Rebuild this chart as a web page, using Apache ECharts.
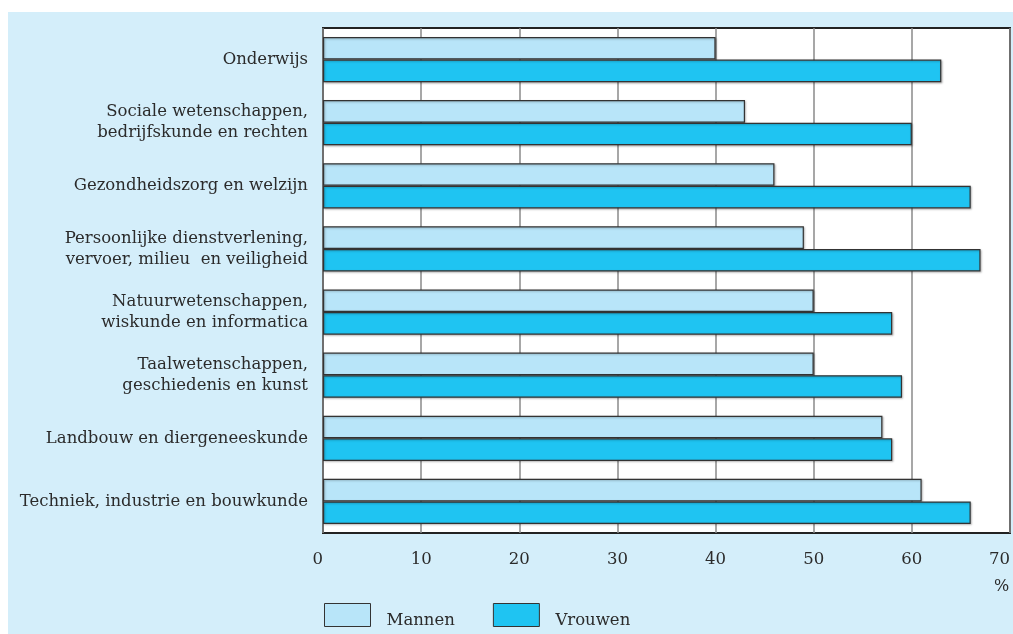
<!DOCTYPE html>
<html>
<head>
<meta charset="utf-8">
<script src="https://cdn.jsdelivr.net/npm/echarts@6/dist/echarts.min.js"></script>
<style>
html,body{margin:0;padding:0;background:#ffffff;}
#chart{width:1013px;height:634px;}
</style>
</head>
<body>
<div id="chart"></div>
<script>
var categories = [
  "Onderwijs",
  "Sociale wetenschappen,\nbedrijfskunde en rechten",
  "Gezondheidszorg en welzijn",
  "Persoonlijke dienstverlening,\nvervoer, milieu  en veiligheid",
  "Natuurwetenschappen,\nwiskunde en informatica",
  "Taalwetenschappen,\ngeschiedenis en kunst",
  "Landbouw en diergeneeskunde",
  "Techniek, industrie en bouwkunde"
];
var mannen = [40, 43, 46, 49, 50, 50, 57, 61];
var vrouwen = [63, 60, 66, 67, 58, 59, 58, 66];
var xTicks = [0, 10, 20, 30, 40, 50, 60, 70];

var FONT = "DejaVu Serif";
var TXT = "#2b2b2b";

var chart = echarts.init(document.getElementById('chart'), null, {renderer: 'canvas'});
chart.setOption({
  animation: false,
  backgroundColor: '#ffffff',
  graphic: [
    {type: 'rect', z: -100, silent: true, shape: {x: 8, y: 12, width: 1005, height: 622}, style: {fill: '#d4eefa'}},
    {type: 'text', z: 10, left: 994, top: 579, style: {text: '%', font: '16px "DejaVu Serif"', fill: TXT}}
  ],
  grid: {
    left: 323, right: 3, top: 28, bottom: 101,
    show: true, backgroundColor: '#ffffff', borderColor: '#222222', borderWidth: 2,
    containLabel: false, outerBoundsMode: 'none'
  },
  legend: {
    left: 324, top: 603, padding: 0,
    itemWidth: 46, itemHeight: 23, itemGap: 38,
    icon: 'rect',
    formatter: '{t|{name}}',
    textStyle: {
      fontFamily: FONT, fontSize: 16.5, color: TXT, padding: [0, 0, 0, 11],
      rich: {t: {fontFamily: FONT, fontSize: 16.5, color: TXT, padding: [12, 0, 0, 0]}}
    },
    itemStyle: {borderColor: '#333333', borderWidth: 1},
    data: ['Mannen', 'Vrouwen']
  },
  xAxis: {
    type: 'value', min: 0, max: 70, interval: 10,
    axisLine: {show: false}, axisTick: {show: false},
    splitLine: {show: true, lineStyle: {color: '#8a8a8a', width: 1.5}},
    axisLabel: {
      margin: 18, fontFamily: FONT, fontSize: 16.5, color: TXT,
      alignMinLabel: 'right', alignMaxLabel: 'right',
      formatter: function (v) { return xTicks.indexOf(v) >= 0 ? String(v) : ''; }
    }
  },
  yAxis: {
    type: 'category', inverse: true, data: categories,
    axisLine: {show: false}, axisTick: {show: false},
    axisLabel: {margin: 15, fontFamily: FONT, fontSize: 16.5, color: TXT, lineHeight: 21, align: 'right',
      padding: [4, 0, 0, 0]}
  },
  series: [
    {
      name: 'Mannen', type: 'bar', data: mannen,
      barGap: '0%', barCategoryGap: '28.5%',
      itemStyle: {color: '#b8e5f9', borderColor: '#333333', borderWidth: 1.2,
        shadowColor: 'rgba(0,0,0,0.25)', shadowBlur: 2, shadowOffsetX: 1, shadowOffsetY: 1}
    },
    {
      name: 'Vrouwen', type: 'bar', data: vrouwen,
      barGap: '0%', barCategoryGap: '28.5%',
      itemStyle: {color: '#1fc4f2', borderColor: '#333333', borderWidth: 1.2,
        shadowColor: 'rgba(0,0,0,0.25)', shadowBlur: 2, shadowOffsetX: 1, shadowOffsetY: 1}
    }
  ]
});
</script>
</body>
</html>
